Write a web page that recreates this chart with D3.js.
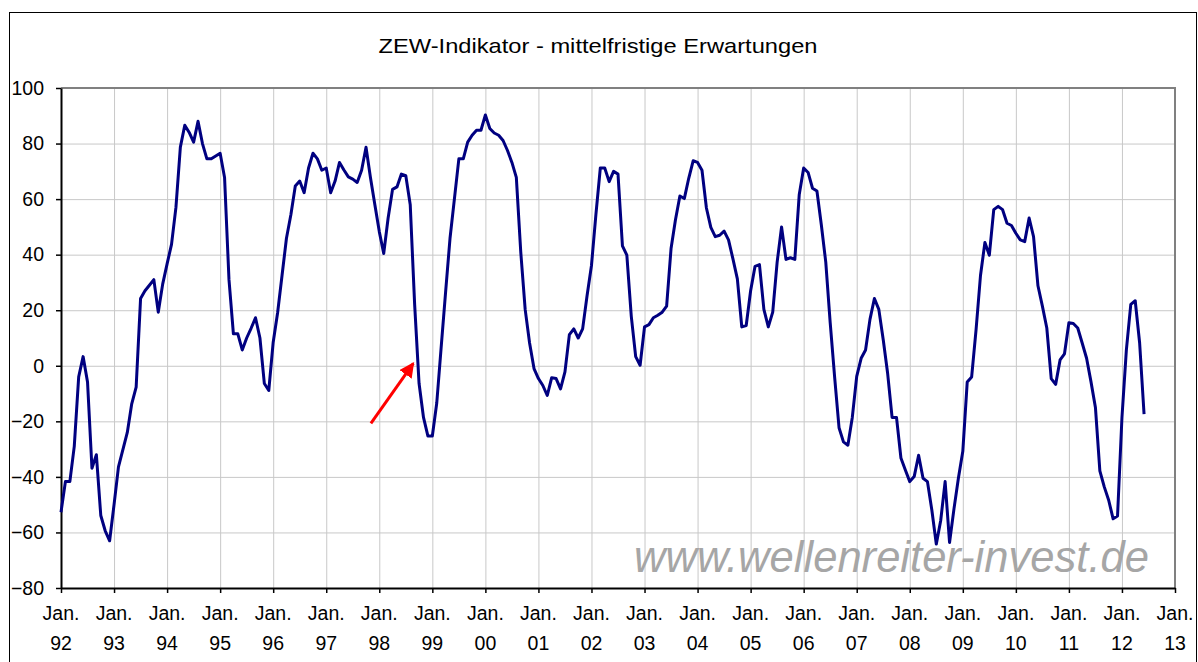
<!DOCTYPE html>
<html>
<head>
<meta charset="utf-8">
<script src="https://cdn.jsdelivr.net/npm/d3@7"></script>
<style>
  body { margin: 0; background: #fff; }
  svg { display: block; font-family: "Liberation Sans", Arial, sans-serif; }
</style>
</head>
<body>
<div id="chart"></div>
<script>
// ZEW Konjunkturerwartungen, monatlich ab Jan. 1992
const values1992_1995 = [
  -52.7, -41.7, -41.7, -29, -4, 3.3, -5.8, -36.9, -32, -53.9, -59.4, -63,
  -50, -36.4, -30.2, -24, -13.7, -7.7, 24.2, 27, 29, 31, 19.3, 29.4,
  36.7, 43.7, 57, 78.7, 86.6, 84, 80.5, 88, 80, 74.5, 74.5, 75.5,
  76.5, 67.8, 31, 11.5, 11.5, 5.7, 10, 13.5, 17.3, 10, -6.4, -8.9
];
const values1996_1999 = [
  8.5, 19.1, 32.5, 45.9, 54.4, 64.7, 66.5, 62.3, 71.2, 76.5, 74.5, 70.4,
  71.2, 62.3, 66.5, 73.2, 70.5, 68, 67.2, 66, 70.4, 78.7, 67.8, 58,
  48.3, 40.4, 53.2, 63.5, 64.4, 69, 68.4, 58, 22, -6.4, -18.6, -25.3,
  -25.3, -13.4, 6.7, 26.5, 45.9, 60.2, 74.5, 74.5, 80.5, 83, 84.8, 84.8
];
const values2000_2003 = [
  90.3, 85.4, 83.8, 83, 81.1, 77.5, 73.2, 67.8, 41, 20.3, 8.2, -1,
  -4.6, -7.1, -10.7, -4.3, -4.6, -8.3, -2.2, 11.2, 13.3, 10, 13.3, 25.2,
  36.1, 54.4, 71.2, 71.2, 66.3, 70, 69, 43.2, 39.8, 17.9, 3.3, 0.2,
  14, 14.8, 17.3, 18.2, 19.3, 21.5, 42.2, 52.6, 61.1, 60.2, 67.5, 73.8
];
const values2004_2007 = [
  73.2, 70.4, 56.8, 49.8, 46.5, 47, 48.5, 45.3, 38.5, 31.3, 14, 14.5,
  27, 35.8, 36.4, 20.3, 14, 19.3, 37.3, 50, 38.3, 38.9, 38.3, 61.7,
  71.2, 69.6, 63.9, 62.9, 50.7, 37.3, 15.5, -4, -22.3, -27.4, -28.6, -18.6,
  -3.8, 2.7, 5.7, 16.7, 24.2, 20.3, 9.4, -2.8, -18.6, -18.6, -33.2, -37.5
];
const values2008_2012 = [
  -41.7, -39.9, -32.2, -40.5, -41.7, -52, -64.2, -55.7, -41.7, -63.6, -51.5, -40.5,
  -30.8, -5.8, -4, 13, 32.5, 44.4, 39.8, 56.2, 57.4, 56.2, 51.3, 50.5,
  47.7, 45.3, 44.7, 53.2, 46.5, 28.8, 21.5, 13.6, -4.6, -6.7, 2.1, 4.3,
  15.5, 15.2, 13.6, 8.2, 2.7, -5.8, -15, -37.8, -43.6, -48.4, -55.1, -54.1,
  -18.6, 5.7, 22.1, 23.4, 8.2, -17.4
];
const yearLabels = ["92","93","94","95","96","97","98","99","00","01","02",
  "03","04","05","06","07","08","09","10","11","12","13"];
const yTicks = [100, 80, 60, 40, 20, 0, -20, -40, -60, -80];
// Pfeil: Monatsindex / Wert
const arrowFrom = {month: 70.1, value: -20.7};
const arrowTo = {month: 79.7, value: 0.9};

const title = "ZEW-Indikator - mittelfristige Erwartungen";
const watermark = "www.wellenreiter-invest.de";

const values = [].concat(values1992_1995, values1996_1999, values2000_2003, values2004_2007, values2008_2012);
const data = values.map((v, i) => ({month: i, value: v}));

const W = 1198, H = 662;
const plot = {left: 61, right: 1175, top: 88, bottom: 588};

const svg = d3.select('#chart').append('svg')
    .attr('width', W)
    .attr('height', H);

// Rahmen
svg.append('rect')
    .attr('x', 9.5).attr('y', 12.5)
    .attr('width', 1187).attr('height', 700)
    .attr('fill', '#fff')
    .attr('stroke', '#000')
    .attr('stroke-width', 1);

svg.append('text')
    .attr('x', 598)
    .attr('y', 53)
    .attr('text-anchor', 'middle')
    .style('font-size', '21px')
    .attr('textLength', 439)
    .attr('lengthAdjust', 'spacingAndGlyphs')
    .style('fill', '#000')
    .text(title);

const xScale = d3.scaleLinear()
    .domain([0, (yearLabels.length - 1) * 12])
    .range([plot.left, plot.right]);

const yScale = d3.scaleLinear()
    .domain([-80, 100])
    .range([plot.bottom, plot.top]);

const yearTicks = yearLabels.map((d, i) => i * 12);

// Gitter
svg.append('g')
    .attr('transform', `translate(0,${plot.bottom})`)
    .call(d3.axisBottom(xScale)
        .tickValues(yearTicks.slice(1, -1))
        .tickSize(-(plot.bottom - plot.top))
        .tickFormat(''))
    .call(g => g.select('.domain').remove())
    .selectAll('line')
    .attr('stroke', '#c8c8c8')
    .attr('stroke-width', 1);

svg.append('g')
    .attr('transform', `translate(${plot.left},0)`)
    .call(d3.axisLeft(yScale)
        .tickValues(yTicks.slice(1, -1))
        .tickSize(-(plot.right - plot.left))
        .tickFormat(''))
    .call(g => g.select('.domain').remove())
    .selectAll('line')
    .attr('stroke', '#c8c8c8')
    .attr('stroke-width', 1);

// Plotrand oben/rechts
svg.append('path')
    .attr('d', `M${plot.left},${plot.top}H${plot.right}V${plot.bottom}`)
    .attr('fill', 'none')
    .attr('stroke', '#808080')
    .attr('stroke-width', 2);

// Wasserzeichen
svg.append('text')
    .attr('x', 634)
    .attr('y', 572)
    .attr('textLength', 515)
    .attr('lengthAdjust', 'spacingAndGlyphs')
    .style('font-size', '44px')
    .style('font-style', 'italic')
    .style('fill', '#a6a6a6')
    .text(watermark);

// Achsen
const xAxis = svg.append('g')
    .attr('transform', `translate(0,${plot.bottom})`)
    .call(d3.axisBottom(xScale)
        .tickValues(yearTicks)
        .tickSize(5)
        .tickSizeOuter(0)
        .tickFormat(''));
xAxis.select('.domain').attr('stroke', '#000').attr('stroke-width', 2);
xAxis.selectAll('line').attr('stroke', '#000').attr('stroke-width', 1.5);

const xLabels = svg.append('g')
    .selectAll('g')
    .data(yearLabels)
    .enter().append('g')
    .attr('transform', (d, i) => `translate(${xScale(i * 12)},0)`);
xLabels.append('text')
    .attr('y', 620)
    .attr('text-anchor', 'middle')
    .style('font-size', '19.5px')
    .text('Jan.');
xLabels.append('text')
    .attr('y', 650)
    .attr('text-anchor', 'middle')
    .style('font-size', '19.5px')
    .text(d => d);

const yAxis = svg.append('g')
    .attr('transform', `translate(${plot.left},0)`)
    .call(d3.axisLeft(yScale)
        .tickValues(yTicks)
        .tickSize(5)
        .tickSizeOuter(0)
        .tickPadding(12));
yAxis.select('.domain').attr('stroke', '#000').attr('stroke-width', 2);
yAxis.selectAll('line').attr('stroke', '#000').attr('stroke-width', 1.5);
yAxis.selectAll('text')
    .style('font-size', '19.5px')
    .style('font-family', '"Liberation Sans", Arial, sans-serif')
    .style('fill', '#000');

// Linie
const line = d3.line()
    .x(d => xScale(d.month))
    .y(d => yScale(d.value));

svg.append('path')
    .datum(data)
    .attr('fill', 'none')
    .attr('stroke', '#000080')
    .attr('stroke-width', 3)
    .attr('stroke-linejoin', 'round')
    .attr('d', line);

// roter Pfeil
svg.append('defs').append('marker')
    .attr('id', 'arrowhead')
    .attr('viewBox', '0 0 10 10')
    .attr('refX', 9)
    .attr('refY', 5)
    .attr('markerWidth', 5)
    .attr('markerHeight', 5)
    .attr('orient', 'auto')
    .append('path')
    .attr('d', 'M0,0L10,5L0,10Z')
    .attr('fill', '#ff0000');

svg.append('line')
    .attr('x1', xScale(arrowFrom.month))
    .attr('y1', yScale(arrowFrom.value))
    .attr('x2', xScale(arrowTo.month))
    .attr('y2', yScale(arrowTo.value))
    .attr('stroke', '#ff0000')
    .attr('stroke-width', 3)
    .attr('marker-end', 'url(#arrowhead)');
</script>
</body>
</html>
